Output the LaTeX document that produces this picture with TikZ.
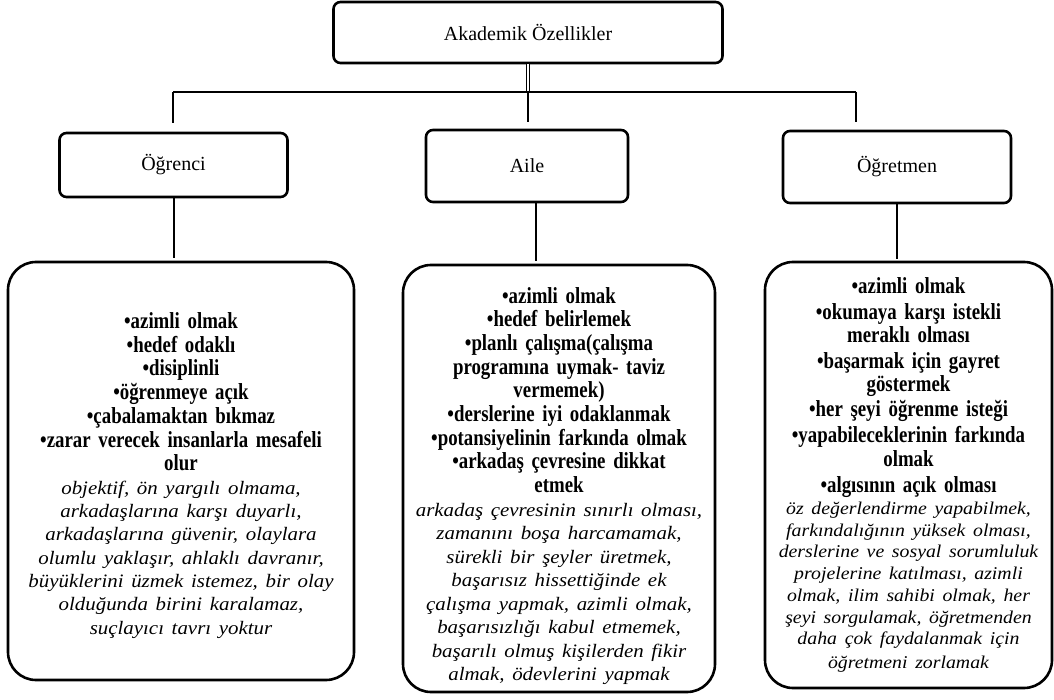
\documentclass[tikz,border=0pt]{standalone}
\usepackage{fontspec}
\setmainfont{Liberation Serif}
\newfontfamily\maddefont{Liberation Serif}[FakeStretch=0.82]
\newfontfamily\aciklamafont{Liberation Serif}[FakeStretch=1.1]
\begin{document}
\begin{tikzpicture}[x=1pt, y=-1pt, line width=2pt,
        baslik/.style={draw, line width=2.6pt, rounded corners=7pt, font=\fontsize{20}{22}\selectfont},
        liste/.style={draw, line width=2.6pt, rounded corners=28pt, align=center, inner sep=2pt,
            font=\maddefont\fontsize{23}{23.7}\selectfont\bfseries}]
    \useasboundingbox (0,0) rectangle (1054,700);

    % Ana başlık ve dallar
    \node[baslik, minimum width=389pt, minimum height=61pt] (akademik) at (528, 32.5) {Akademik Özellikler};
    \node[baslik, minimum width=228pt, minimum height=64pt] (ogrenci) at (173.5, 165) {Öğrenci};
    \node[baslik, minimum width=202pt, minimum height=72pt] (aile) at (527, 166) {Aile};
    \node[baslik, minimum width=228pt, minimum height=72pt] (ogretmen) at (897, 167) {Öğretmen};

    % Alt kutular
    \node[liste, text width=336pt, minimum width=346pt, minimum height=418pt] (ogrenciListe) at (181, 471)
        {\rule{0pt}{25pt}•azimli olmak\\ •hedef odaklı\\ •disiplinli\\ •öğrenmeye açık\\ •çabalamaktan bıkmaz\\
         •zarar verecek insanlarla mesafeli\\ olur\par
         \aciklamafont\fontsize{19}{23.3}\selectfont\mdseries\itshape
         objektif, ön yargılı olmama,\\ arkadaşlarına karşı duyarlı,\\ arkadaşlarına güvenir, olaylara\\
         olumlu yaklaşır, ahlaklı davranır,\\ büyüklerini üzmek istemez, bir olay\\
         olduğunda birini karalamaz,\\ suçlayıcı tavrı yoktur};
    \node[liste, text width=304pt, minimum width=312pt, minimum height=427pt] (aileListe) at (559, 478.5)
        {\rule{0pt}{31pt}•azimli olmak\\ •hedef belirlemek\\ •planlı çalışma(çalışma\\ programına uymak- taviz\\ vermemek)\\
         •derslerine iyi odaklanmak\\ •potansiyelinin farkında olmak\\ •arkadaş çevresine dikkat\\ etmek\par
         \aciklamafont\fontsize{19}{23.5}\selectfont\mdseries\itshape
         arkadaş çevresinin sınırlı olması,\\ zamanını boşa harcamamak,\\ sürekli bir şeyler üretmek,\\
         başarısız hissettiğinde ek\\ çalışma yapmak, azimli olmak,\\ başarısızlığı kabul etmemek,\\
         başarılı olmuş kişilerden fikir\\ almak, ödevlerini yapmak};
    \node[liste, text width=283pt, minimum width=287pt, minimum height=426pt,
        font=\maddefont\fontsize{23}{23.5}\selectfont\bfseries] (ogretmenListe) at (908.5, 475)
        {•azimli olmak\\[2pt] •okumaya karşı istekli\\ meraklı olması\\[2pt] •başarmak için gayret\\ göstermek\\[1pt]
         •her şeyi öğrenme isteği\\[3pt] •yapabileceklerinin farkında\\ olmak\\[3pt] •algısının açık olması\par
         \aciklamafont\fontsize{18}{21.7}\selectfont\mdseries\itshape
         öz değerlendirme yapabilmek,\\ farkındalığının yüksek olması,\\ derslerine ve sosyal sorumluluk\\
         projelerine katılması, azimli\\ olmak, ilim sahibi olmak, her\\ şeyi sorgulamak, öğretmenden\\
         daha çok faydalanmak için\\ öğretmeni zorlamak};

    % Bağlantılar
    \coordinate (dugum) at (528, 92);
    \coordinate (solUc) at (173, 92);
    \coordinate (sagUc) at (856, 92);
    \coordinate (aileAlt) at ([xshift=9pt]aile.south);
    \draw[double, double distance=1.6pt, line width=1.2pt] (akademik.south) -- (dugum);
    \draw (solUc) -- (sagUc);
    \draw[shorten >=9pt] (solUc) -- (solUc |- ogrenci.north);
    \draw[shorten >=7pt] (dugum) -- (dugum |- aile.north);
    \draw[shorten >=8pt] (sagUc) -- (sagUc |- ogretmen.north);
    \draw[shorten >=3pt] (ogrenci.south) -- (ogrenci.south |- ogrenciListe.north);
    \draw[shorten >=3pt] (aileAlt) -- (aileAlt |- aileListe.north);
    \draw[shorten >=2pt] (ogretmen.south) -- (ogretmen.south |- ogretmenListe.north);
\end{tikzpicture}
\end{document}
